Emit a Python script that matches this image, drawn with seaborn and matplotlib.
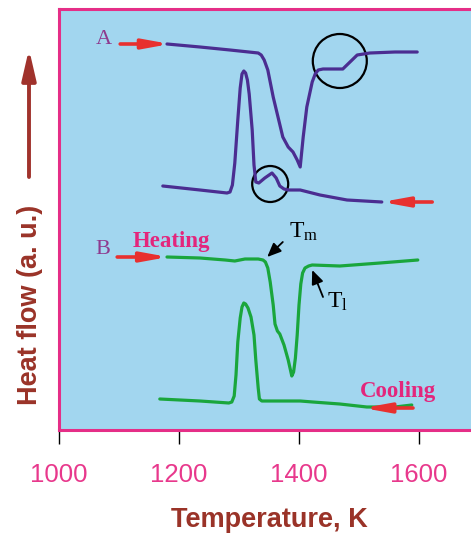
import matplotlib
matplotlib.use("Agg")
import matplotlib.pyplot as plt
import seaborn as sns
import pandas as pd
from matplotlib.patches import Ellipse

# ---- data (temperature K, heat flow a.u.) ----
a_heat_T = [1180, 1235, 1285, 1332, 1337, 1342, 1348, 1357, 1373, 1382, 1390, 1397, 1402,
            1407, 1413, 1422, 1427, 1432, 1440, 1447, 1473, 1485, 1497, 1518, 1560, 1597]
a_heat_q = [386, 383, 380, 377, 375, 370, 360, 333, 293, 283, 278, 270, 263,
            293, 323, 348, 356, 360, 361, 361, 361, 368, 375, 377, 378, 378]

a_cool_T = [1173, 1235, 1280, 1285, 1289, 1293, 1298, 1302, 1305, 1308, 1311, 1314, 1317, 1322,
            1325, 1328, 1333, 1343, 1355, 1362, 1368, 1375, 1382, 1402, 1435, 1480, 1538]
a_cool_q = [244, 240, 237, 238, 245, 267, 310, 342, 356, 359, 357, 350, 336, 300,
            265, 248, 247, 252, 257, 252, 244, 241, 240, 240, 235, 230, 228]

b_heat_T = [1180, 1235, 1277, 1293, 1310, 1332, 1340, 1344, 1348, 1352, 1357, 1360, 1364, 1368,
            1375, 1382, 1388, 1391, 1394, 1397, 1400, 1403, 1406, 1410, 1416, 1422, 1468, 1535, 1598]
b_heat_q = [173, 172, 170, 169, 171, 171, 170, 168, 162, 148, 125, 106, 99, 96,
            85, 70, 54, 58, 72, 95, 125, 146, 157, 162, 164, 165, 164, 167, 170]

b_cool_T = [1168, 1235, 1283, 1288, 1292, 1295, 1298, 1302, 1305, 1308, 1311, 1315, 1320, 1325,
            1328, 1332, 1334, 1338, 1402, 1423, 1468, 1513, 1560, 1588]
b_cool_q = [31, 29, 27, 28, 34, 55, 88, 112, 123, 127, 126, 122, 113, 95,
            70, 42, 31, 29, 29, 28, 26, 23, 23, 25]

x_ticks = [1000, 1200, 1400, 1600]

# ---- figure ----
W, H = 471, 535
fig = plt.figure(figsize=(W / 100, H / 100), dpi=100)
L, T, B, R = 59, 9, 430, 479
ax = fig.add_axes([L / W, 1 - B / H, (R - L) / W, (B - T) / H])

bg = "#a2d6ef"
pink = "#e52e87"
purple = "#4b2d91"
green = "#1aa63c"
red = "#e8302f"
dark_red = "#9a3328"
label_purple = "#8e3a8e"
text_pink = "#e3267c"

ax.set_facecolor(bg)

curves = [
    (a_heat_T, a_heat_q, purple),
    (a_cool_T, a_cool_q, purple),
    (b_heat_T, b_heat_q, green),
    (b_cool_T, b_cool_q, green),
]
for xs, ys, c in curves:
    df = pd.DataFrame({"T": xs, "q": ys})
    sns.lineplot(data=df, x="T", y="q", sort=False, color=c, lw=2.3, ax=ax,
                 solid_joinstyle="round", solid_capstyle="round")

ax.set_xlim(1000, 1700)
ax.set_ylim(0, 421)

for s in ["left", "bottom", "top"]:
    ax.spines[s].set_color(pink)
    ax.spines[s].set_linewidth(2.2)
ax.spines["right"].set_visible(False)

ax.set_xticks(x_ticks)
ax.set_xticklabels([str(t) for t in x_ticks])
ax.tick_params(axis="x", length=10, width=1.0, color="black", pad=14,
               labelsize=18.5, labelcolor="#e8388c")
for lab in ax.get_xticklabels():
    lab.set_fontfamily("Liberation Sans")
ax.set_yticks([])
ax.set_ylabel("")
ax.set_xlabel("Temperature, K", fontsize=19.5, fontweight="bold", color=dark_red,
              family="Liberation Sans", labelpad=14)

# red direction arrows
arrow_kw = dict(arrowstyle="-|>,head_length=1.1,head_width=0.2", color=red,
                lw=2.6, mutation_scale=14, shrinkA=0, shrinkB=0)
for (x0, y0, x1, y1) in [(1102, 386, 1185, 386), (1622, 228, 1538, 228),
                         (1097, 173, 1182, 173), (1590, 22, 1507, 22)]:
    ax.annotate("", xy=(x1, y1), xytext=(x0, y0), arrowprops=arrow_kw)

# circles
ax.add_patch(Ellipse((1468, 369), 2 * 27 / 0.6, 2 * 27, fill=False, ec="black", lw=1.6))
ax.add_patch(Ellipse((1352, 246), 2 * 18 / 0.6, 2 * 18, fill=False, ec="black", lw=1.6))

# text labels
serif = "Liberation Serif"
ax.text(1075, 390, "A", fontsize=16, family=serif, color=label_purple, ha="center", va="center")
ax.text(1073, 181, "B", fontsize=16, family=serif, color=label_purple, ha="center", va="center")
ax.text(1187, 188, "Heating", fontsize=16.5, family=serif, fontweight="bold", color=text_pink,
        ha="center", va="center")
ax.text(1565, 39, "Cooling", fontsize=16.5, family=serif, fontweight="bold", color=text_pink,
        ha="center", va="center")

plt.rcParams["mathtext.fontset"] = "stix"
ax.text(1383, 198, r"$\mathregular{T_m}$", fontsize=17, family=serif, color="black",
        ha="left", va="center")
ax.text(1446, 128, r"$\mathregular{T_l}$", fontsize=17, family=serif, color="black",
        ha="left", va="center")
blk = dict(arrowstyle="-|>,head_length=0.7,head_width=0.3", color="black", lw=1.3,
           mutation_scale=12, shrinkA=0, shrinkB=0)
ax.annotate("", xy=(1347, 173), xytext=(1373, 188), arrowprops=blk)
ax.annotate("", xy=(1422, 160), xytext=(1440, 133), arrowprops=blk)

# y label and arrow
fig.text(30 / W, 1 - 305 / H, "Heat flow (a. u.)", rotation=90, ha="center", va="center",
         fontsize=19.5, fontweight="bold", color=dark_red, family="Liberation Sans")
ax.annotate("", xy=(29 / W, 1 - 49 / H), xytext=(29 / W, 1 - 177 / H),
            xycoords="figure fraction", textcoords="figure fraction",
            arrowprops=dict(arrowstyle="-|>,head_length=1.3,head_width=0.3", color="#a0322c",
                            lw=2.8, mutation_scale=14, shrinkA=0, shrinkB=0))

fig.savefig("out.png", dpi=100)
